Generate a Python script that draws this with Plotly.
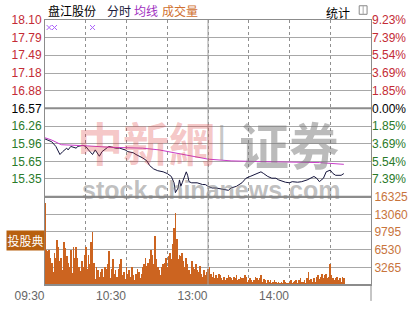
import plotly.graph_objects as go

# ---------------- data ----------------
prev_close = 16.57
price_levels = [18.10, 17.79, 17.49, 17.18, 16.88, 16.57, 16.26, 15.96, 15.65, 15.35]
pct_labels = ['9.23%', '7.39%', '5.54%', '3.69%', '1.85%', '0.00%',
              '1.85%', '3.69%', '5.54%', '7.39%']
price_range = [15.04, 18.10]
vol_ticks = [3265, 6530, 9795, 13060, 16325]
vol_labels = ['3265', '6530', '9795', '13060', '16325']
time_ticks = [0, 60, 120, 180]
time_labels = ['09:30', '10:30', '13:00', '14:00']

# minutes since 09:30 (trading minutes) and price
price_min = [0, 2, 5, 8, 11, 13, 16, 17, 19, 23, 24, 28, 30, 32, 35, 37, 40, 42, 45, 47,
             49, 52, 55, 59, 61, 65, 67, 70, 72, 75, 77, 80, 83, 87, 90, 93, 95, 96, 98, 99,
             100, 101, 104, 105, 106, 108, 112, 116, 118, 120, 123, 126, 130, 132, 135, 137,
             141, 145, 148, 151, 153, 157, 159, 161, 164, 167, 170, 172, 175, 177, 180, 182,
             186, 189, 193, 195, 198, 200, 202, 205, 207, 210, 212, 214, 218, 220]
price = [16.04, 16.02, 15.99, 15.91, 15.77, 15.82, 15.88, 15.85, 15.91, 15.88, 15.91, 15.93,
         15.91, 15.85, 15.77, 15.85, 15.74, 15.82, 15.88, 15.91, 15.90, 15.88, 15.88, 15.85,
         15.82, 15.80, 15.77, 15.74, 15.71, 15.66, 15.58, 15.52, 15.49, 15.47, 15.44, 15.39,
         15.28, 15.11, 15.19, 15.33, 15.22, 15.28, 15.47, 15.41, 15.30, 15.28, 15.28, 15.25,
         15.25, 15.22, 15.19, 15.19, 15.17, 15.17, 15.15, 15.19, 15.22, 15.28, 15.36, 15.39,
         15.41, 15.44, 15.47, 15.44, 15.39, 15.36, 15.36, 15.33, 15.30, 15.29, 15.28, 15.30,
         15.29, 15.30, 15.33, 15.36, 15.39, 15.36, 15.30, 15.36, 15.47, 15.50, 15.44, 15.41,
         15.41, 15.44]

avg_min = [0, 5, 12, 24, 31, 48, 72, 84, 96, 108, 120, 137, 142, 154, 178, 202, 220]
avg_price = [16.06, 16.02, 15.94, 15.93, 15.92, 15.895, 15.88, 15.85, 15.80, 15.74, 15.69,
             15.66, 15.66, 15.65, 15.64, 15.63, 15.60]

mark_min = [3, 7, 35]
mark_price = [17.97, 17.97, 17.97]

volume = [
    15150, 6550, 6260, 6550, 5090, 4210, 2400, 5970, 5090, 8310,
    7140, 4500, 5090, 2900, 8020, 6840, 5380, 4210, 3330, 6550,
    2200, 7140, 5090, 7140, 5090, 3330, 2600, 4500, 3330, 5670,
    7140, 3040, 5670, 3920, 8020, 9770, 4210, 1200, 3330, 2750,
    1580, 2460, 3040, 1580, 3330, 3040, 3920, 6260, 1400, 3040,
    4800, 2160, 2750, 1580, 3040, 3920, 4800, 1870, 2460, 1100,
    3330, 2160, 2750, 1580, 3330, 1870, 995, 2160, 3040, 2460,
    1300, 2100,
    3330, 3920, 5090, 3620, 4210, 4800, 6550, 5670, 3920, 9200,
    4800, 3330, 2750, 1870, 3330, 3920, 4210, 5090, 3330, 5380,
    5970, 4800, 7720, 10530, 13280, 8600, 4800,
    5670, 5380, 5970, 4500, 3330, 5090, 3920, 2750, 2100,
    4500, 3330, 3040, 3920, 2750, 2460, 3620, 2160, 1500,
    2750, 1870, 2460, 3040, 3330, 2160, 1580, 2460, 1300,
    1870, 1290, 2160, 1870, 1290, 995, 1580, 995, 1400,
    1870, 1580, 1290, 995, 1580, 1290, 1870, 995, 1100,
    1580, 1290, 1290, 1870, 1580, 700, 995, 1290, 900,
    700, 995, 1580, 1290, 995, 1290, 1870, 700, 1200,
    995, 410, 995, 700, 995, 410, 700, 995, 600,
    410, 700,
    410, 700, 410, 995, 700, 500, 410, 700, 995, 410, 700, 800,
    995, 410, 995, 1290, 700, 600, 995, 410, 1290, 2460, 995, 1100,
    700, 1290, 700, 1580, 1870, 1200, 1580, 2160, 1290, 1870, 2160, 1400,
    1580, 3920, 1870, 1290, 995, 1300, 1580, 995, 1290, 700, 1580, 1290,
]
vol_min = list(range(len(volume)))

# ---------------- styles ----------------
RED = '#c42b35'
GREEN = '#2a7a2a'
BLACK = '#000000'
ORANGE = '#c8743c'
GRID = '#a8a8a8'
AXIS = '#8c8c8c'
FONT = 'Liberation Sans, Arial, sans-serif'
CJK = 'Noto Sans CJK SC, sans-serif'


def colored(text, color):
    return '<span style="color:%s">%s</span>' % (color, text)


def level_color(p):
    if abs(p - prev_close) < 1e-9:
        return BLACK
    return RED if p > prev_close else GREEN


left_text = [colored('%.2f' % p, level_color(p)) for p in price_levels]
right_text = [colored(t, level_color(p)) for t, p in zip(pct_labels, price_levels)]

fig = go.Figure()
fig.add_trace(go.Bar(x=vol_min, y=volume, xaxis='x2', yaxis='y2', width=0.5,
                     marker=dict(color='#cc6420', line=dict(width=0)), hoverinfo='skip'))
fig.add_trace(go.Scatter(x=avg_min, y=avg_price, mode='lines', yaxis='y3',
                         line=dict(color='#c83cc8', width=1), hoverinfo='skip'))
fig.add_trace(go.Scatter(x=price_min, y=price, mode='lines',
                         line=dict(color='#14143c', width=1), hoverinfo='skip'))
fig.add_trace(go.Scatter(x=mark_min, y=mark_price, mode='markers',
                         marker=dict(symbol='x-thin-open', size=5, line=dict(color='#c040c0', width=1)),
                         hoverinfo='skip'))

vdom = 1 / 3
fig.update_layout(
    width=420, height=315,
    margin=dict(l=40, r=48, t=20, b=16),
    paper_bgcolor='white', plot_bgcolor='white',
    showlegend=False,
    bargap=0,
    font=dict(family=FONT, size=12, color='#555555'),
    xaxis=dict(domain=[0, 1], anchor='y', range=[0, 240], tick0=0, dtick=30,
               showgrid=True, gridcolor='#909090', griddash='dot', gridwidth=1,
               showticklabels=False, ticks='', zeroline=False,
               showline=True, mirror=True, linecolor=AXIS, linewidth=1),
    yaxis=dict(domain=[vdom, 1], anchor='x', range=price_range,
               tickmode='array', tickvals=price_levels, ticktext=left_text,
               showgrid=True, gridcolor=GRID, gridwidth=1, zeroline=False, ticks='',
               showline=True, mirror=True, linecolor=AXIS, linewidth=1,
               tickfont=dict(family=FONT, size=12)),
    yaxis3=dict(overlaying='y', side='right', anchor='x', range=price_range,
                tickmode='array', tickvals=price_levels, ticktext=right_text,
                showgrid=False, zeroline=False, ticks='', showline=False,
                tickfont=dict(family=FONT, size=12)),
    xaxis2=dict(domain=[0, 1], anchor='y2', matches='x', range=[0, 240],
                tickmode='array', tickvals=time_ticks, ticktext=time_labels,
                ticklabelposition='outside left', ticks='',
                showgrid=True, gridcolor='#909090', griddash='dot',
                minor=dict(dtick=30, tick0=0, showgrid=True, gridcolor='#909090', griddash='dot'),
                zeroline=False, showline=True, mirror=True, linecolor=AXIS, linewidth=1,
                tickfont=dict(family=FONT, size=12, color='#666666')),
    yaxis2=dict(domain=[0, vdom], anchor='x2', side='right', range=[0, 16325],
                tickmode='array', tickvals=vol_ticks, ticktext=vol_labels, ticks='',
                showgrid=True, gridcolor=GRID, zeroline=False,
                showline=True, mirror=True, linecolor=AXIS, linewidth=1,
                tickfont=dict(family=FONT, size=12, color=ORANGE)),
)

shapes = [
    dict(type='line', xref='paper', yref='y', x0=0, x1=1, y0=prev_close, y1=prev_close,
         line=dict(color='#8c8c8c', width=2)),
    dict(type='line', xref='paper', yref='paper', x0=0, x1=1, y0=vdom, y1=vdom,
         line=dict(color='#8c8c8c', width=2)),
    dict(type='line', xref='paper', yref='paper', x0=0, x1=1, y0=0, y1=0,
         line=dict(color='#8c8c8c', width=2)),
    dict(type='line', xref='x', yref='paper', x0=120, x1=120, y0=0, y1=1,
         line=dict(color='#a0a0a0', width=1)),
    dict(type='line', xref='paper', yref='paper', x0=1, x1=1, y0=-0.06, y1=0,
         line=dict(color=AXIS, width=1)),
    # small window icon in header
    dict(type='rect', xref='paper', yref='paper',
         x0=(360 - 40) / 332, x1=(368 - 40) / 332, y0=(299 - 14) / 279, y1=(299 - 5) / 279,
         line=dict(color='#888888', width=1)),
    dict(type='line', xref='paper', yref='paper',
         x0=(364 - 40) / 332, x1=(364 - 40) / 332, y0=(299 - 14) / 279, y1=(299 - 5) / 279,
         line=dict(color='#aaaaaa', width=1)),
]
fig.update_layout(shapes=shapes)


def px(xp):
    return (xp - 40) / 332


def py(yp):
    return (299 - yp) / 279


ann = [
    dict(text='盘江股份', x=px(41), y=py(10), color='#000000'),
    dict(text='分时', x=px(101), y=py(10), color='#1a1a3a'),
    dict(text='均线', x=px(129), y=py(10), color='#a030c0'),
    dict(text='成交量', x=px(157), y=py(10), color='#d07030'),
    dict(text='统计', x=px(324), y=py(12), color='#000000'),
]
annotations = []
for a in ann:
    annotations.append(dict(text=a['text'], xref='paper', yref='paper', x=a['x'], y=a['y'],
                            xanchor='left', yanchor='middle', showarrow=False,
                            font=dict(family=CJK, size=12, color=a['color'])))

# watermarks
annotations += [
    dict(text='<b>中新網</b>', xref='paper', yref='paper', x=px(143), y=py(147),
         xanchor='center', yanchor='middle',
         showarrow=False, font=dict(family=CJK, size=46, color='rgba(220,60,60,0.3)')),
    dict(text='|', xref='paper', yref='paper', x=px(220), y=py(146),
         xanchor='center', yanchor='middle',
         showarrow=False, font=dict(family=FONT, size=36, color='rgba(130,130,130,0.45)')),
    dict(text='<b>证券</b>', xref='paper', yref='paper', x=px(288), y=py(150),
         xanchor='center', yanchor='middle',
         showarrow=False, font=dict(family=CJK, size=50, color='rgba(120,120,120,0.5)')),
    dict(text='<b>stock.chinanews.com</b>', xref='paper', yref='paper', x=px(209), y=py(199),
         xanchor='center', yanchor='middle',
         showarrow=False, font=dict(family=FONT, size=25, color='rgba(130,130,130,0.5)')),
    dict(text='投股典', xref='paper', yref='paper', x=px(0), y=py(252),
         xanchor='left', yanchor='middle', showarrow=False, width=37, height=19,
         bgcolor='#b8600f', borderpad=0,
         font=dict(family=CJK, size=12, color='white')),
]
fig.update_layout(annotations=annotations)

fig.write_html('out.html')
